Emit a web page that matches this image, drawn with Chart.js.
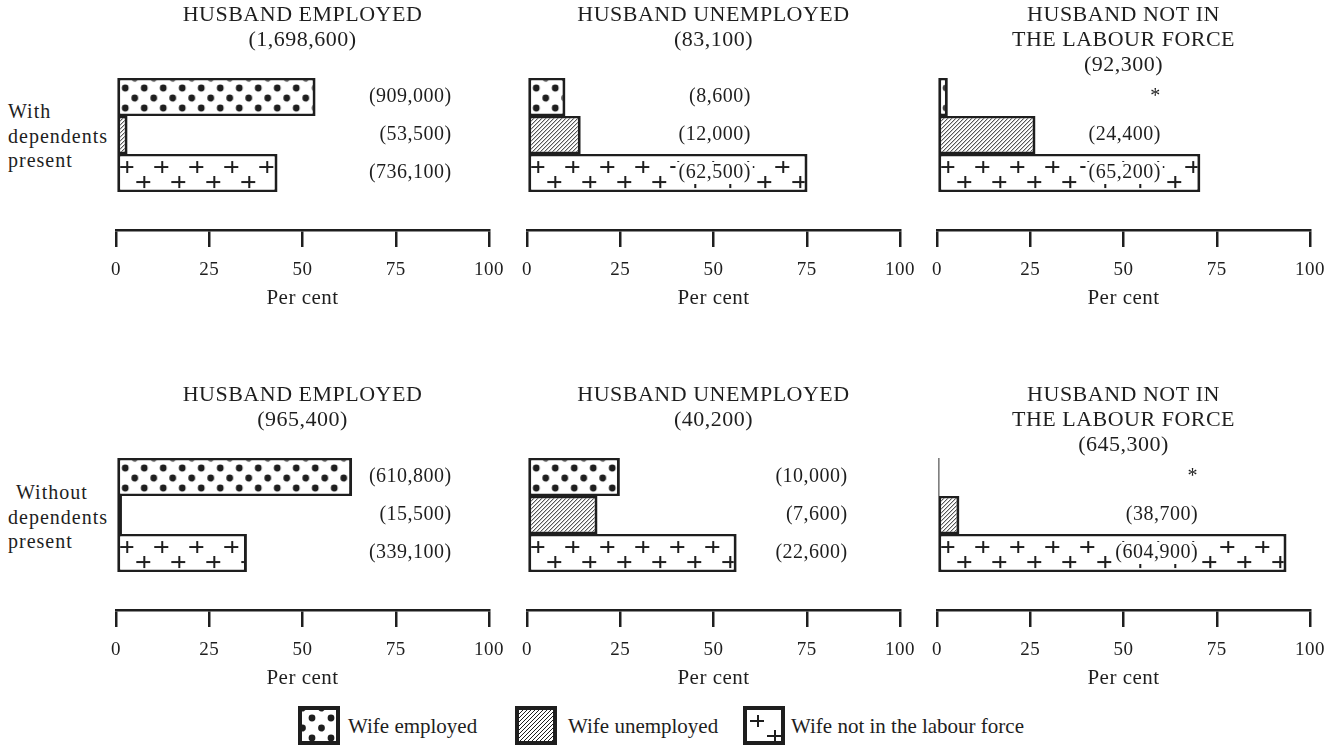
<!DOCTYPE html>
<html>
<head>
<meta charset="utf-8">
<script src="https://cdn.jsdelivr.net/npm/chart.js@4.4.0/dist/chart.umd.min.js"></script>
<style>
  body {
    margin: 0;
    width: 1334px;
    height: 748px;
    position: relative;
    overflow: hidden;
    background: #fff;
    color: #1e1e1e;
    font-family: "Liberation Serif", serif;
  }
  canvas.panel { position: absolute; }
  .rowlab {
    position: absolute;
    left: 8px;
    font-size: 20px;
    line-height: 24.5px;
    letter-spacing: 1px;
  }
  .key { position: absolute; top: 706px; height: 39px; }
  .key span {
    position: absolute;
    top: 8px;
    font-size: 21px;
    white-space: nowrap;
  }
</style>
</head>
<body>

<div class="rowlab" style="top:99px">With<br>dependents<br>present</div>
<div class="rowlab" style="top:480px"><span style="padding-left:8px">Without</span><br>dependents<br>present</div>

<div id="legend"></div>

<script>
var INK = "#1e1e1e";
var SERIF = '"Liberation Serif", "Times New Roman", serif';
Chart.defaults.font.family = SERIF;
Chart.defaults.color = INK;

// ---- data ----
var categories = ["Wife employed", "Wife unemployed", "Wife not in the labour force"];
var husbandGroups = [["HUSBAND EMPLOYED"], ["HUSBAND UNEMPLOYED"], ["HUSBAND NOT IN", "THE LABOUR FORCE"]];
var withTotals = ["(1,698,600)", "(83,100)", "(92,300)"];
var withoutTotals = ["(965,400)", "(40,200)", "(645,300)"];

// per cent of wives, one value per husband group
var withEmployed = [53.5, 10.3, 2.9];
var withUnemployed = [3.1, 14.4, 26.4];
var withNotInLF = [43.3, 75.2, 70.6];
var withoutEmployed = [63.3, 24.9, 0.7];
var withoutUnemployed = [1.6, 18.9, 6.0];
var withoutNotInLF = [35.1, 56.2, 93.7];

// numbers printed beside the bars (* = too few to show)
var withCounts = [["(909,000)", "(53,500)", "(736,100)"], ["(8,600)", "(12,000)", "(62,500)"], ["*", "(24,400)", "(65,200)"]];
var withoutCounts = [["(610,800)", "(15,500)", "(339,100)"], ["(10,000)", "(7,600)", "(22,600)"], ["*", "(38,700)", "(604,900)"]];

var tickValues = [0, 25, 50, 75, 100];

// ---- layout ----
var axisLeft = [116, 527, 937];
var rowTop = [0, 380];
var countAt = [[90, 60, 60], [90, 86, 70]]; // per cent where the printed numbers end
var PAD_L = 20, PAD_R = 28; // right side must clear the "100" label plus tick padding

// ---- fill patterns ----
function tile(w, h, draw) {
  var c = document.createElement("canvas");
  c.width = w;
  c.height = h;
  var g = c.getContext("2d");
  g.fillStyle = "#fff";
  g.fillRect(0, 0, w, h);
  g.fillStyle = INK;
  g.strokeStyle = INK;
  draw(g);
  return c;
}

var dotTile = tile(19, 20, function (g) {
  [[8, 10], [17.5, 0], [17.5, 20], [-1.5, 0], [-1.5, 20]].forEach(function (p) {
    g.beginPath();
    g.arc(p[0], p[1], 3.4, 0, Math.PI * 2);
    g.fill();
  });
});

var hatchTile = tile(4, 4, function (g) {
  g.lineWidth = 1;
  g.beginPath();
  g.moveTo(-1, 5); g.lineTo(5, -1);
  g.moveTo(-1, 1); g.lineTo(1, -1);
  g.moveTo(3, 5); g.lineTo(5, 3);
  g.stroke();
});

function plusMark(g, x, y) {
  g.moveTo(x - 8, y); g.lineTo(x + 6, y);
  g.moveTo(x, y - 6); g.lineTo(x, y + 6);
}
var plusTile = tile(35, 38, function (g) {
  g.lineWidth = 2;
  g.beginPath();
  plusMark(g, 10, 13);
  plusMark(g, 27, 28);
  g.stroke();
});

var tiles = [dotTile, hatchTile, plusTile];

// pin each bar's pattern to the bar's own corner
var alignPatterns = {
  id: "alignPatterns",
  beforeDatasetsDraw: function (chart) {
    var fills = chart.data.datasets[0].backgroundColor;
    chart.getDatasetMeta(0).data.forEach(function (bar, i) {
      fills[i].setTransform(new DOMMatrix().translate(Math.min(bar.base, bar.x), bar.y - bar.height / 2));
    });
  }
};

var textSpacing = {
  id: "textSpacing",
  beforeDraw: function (chart) { chart.ctx.letterSpacing = "0.5px"; },
  afterDraw: function (chart) { chart.ctx.letterSpacing = "0px"; }
};

var barNotes = {
  id: "barNotes",
  afterDatasetsDraw: function (chart, args, opts) {
    var ctx = chart.ctx;
    var xs = chart.scales.x, ys = chart.scales.y;
    ctx.save();
    ctx.font = "20px " + SERIF;
    ctx.letterSpacing = "0.5px";
    ctx.textAlign = "right";
    ctx.textBaseline = "middle";
    opts.texts.forEach(function (t, i) {
      var px = xs.getPixelForValue(opts.at);
      var py = ys.getPixelForValue(i);
      var w = ctx.measureText(t).width;
      ctx.fillStyle = "#fff";
      ctx.fillRect(px - w - 3, py - 11, w + 5, 22);
      ctx.fillStyle = INK;
      ctx.fillText(t, px, py);
    });
    ctx.restore();
  }
};

function makePanel(row, col, values, counts, total) {
  var c = document.createElement("canvas");
  c.className = "panel";
  c.width = 373 + PAD_L + PAD_R;
  c.height = 310;
  c.style.left = (axisLeft[col] - PAD_L) + "px";
  c.style.top = rowTop[row] + "px";
  document.body.appendChild(c);
  var ctx = c.getContext("2d");

  var lines = husbandGroups[col].concat([total]);
  var fills = tiles.map(function (t) { return ctx.createPattern(t, "repeat"); });

  return new Chart(ctx, {
    type: "bar",
    data: {
      labels: categories.concat([""]),
      datasets: [{
        data: values,
        backgroundColor: fills,
        borderColor: INK,
        borderWidth: { top: 2.5, bottom: 2.5, left: 3, right: 3 },
        borderSkipped: false,
        inflateAmount: 0,
        barPercentage: 1,
        categoryPercentage: 1
      }]
    },
    options: {
      indexAxis: "y",
      responsive: false,
      animation: false,
      events: [],
      layout: { padding: { left: PAD_L, right: PAD_R, top: 0, bottom: 0 } },
      scales: {
        y: { type: "category", display: false },
        x: {
          type: "linear",
          min: 0,
          max: 100,
          afterBuildTicks: function (axis) {
            axis.ticks = tickValues.map(function (v) { return { value: v }; });
          },
          ticks: {
            color: INK,
            padding: 11,
            maxRotation: 0,
            autoSkip: false,
            font: { family: SERIF, size: 19, lineHeight: "24px" }
          },
          grid: { drawOnChartArea: false, drawTicks: true, tickLength: 17, lineWidth: 2.5, color: INK },
          border: { display: true, color: INK, width: 2.5 },
          title: {
            display: true,
            text: "Per cent",
            color: INK,
            font: { family: SERIF, size: 21, lineHeight: "10px" },
            padding: { top: 0, bottom: 7 }
          }
        }
      },
      plugins: {
        legend: { display: false },
        tooltip: { enabled: false },
        title: {
          display: true,
          text: lines,
          color: INK,
          font: { family: SERIF, size: 22, weight: "normal", lineHeight: "25px" },
          padding: { top: 3, bottom: 78 - 3 - 25 * lines.length }
        },
        barNotes: { texts: counts, at: countAt[row][col] }
      }
    },
    plugins: [alignPatterns, textSpacing, barNotes]
  });
}

for (var k = 0; k < 3; k++) {
  makePanel(0, k, [withEmployed[k], withUnemployed[k], withNotInLF[k]], withCounts[k], withTotals[k]);
  makePanel(1, k, [withoutEmployed[k], withoutUnemployed[k], withoutNotInLF[k]], withoutCounts[k], withoutTotals[k]);
}

// ---- key ----
var keyBoxLeft = [298, 515, 743];
var keyTextLeft = [348, 568, 791];
var legend = document.getElementById("legend");
categories.forEach(function (name, i) {
  var box = document.createElement("canvas");
  box.width = 42;
  box.height = 39;
  box.className = "key";
  box.style.left = keyBoxLeft[i] + "px";
  var g = box.getContext("2d");
  var p = g.createPattern(tiles[i], "repeat");
  p.setTransform(new DOMMatrix().translate(i === 2 ? 5 : 6, 2));
  g.fillStyle = INK;
  g.fillRect(0, 0, 42, 39);
  g.fillStyle = p;
  g.fillRect(4, 4, 34, 31);
  legend.appendChild(box);

  var holder = document.createElement("div");
  holder.className = "key";
  holder.style.left = keyTextLeft[i] + "px";
  var s = document.createElement("span");
  s.textContent = name;
  holder.appendChild(s);
  legend.appendChild(holder);
});
</script>
</body>
</html>
